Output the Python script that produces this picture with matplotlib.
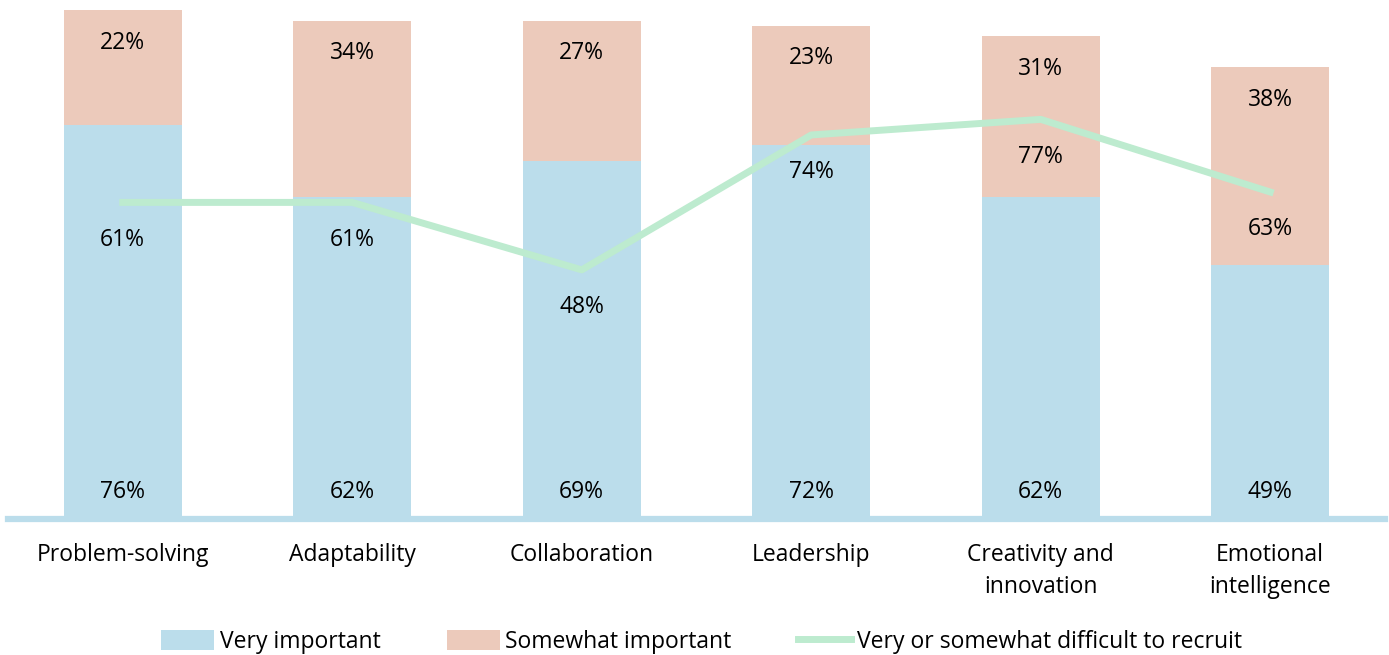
import matplotlib.pyplot as plt
import numpy as np

plt.rcParams['font.family'] = ['Open Sans', 'DejaVu Sans']

# data
categories = ['Problem-solving', 'Adaptability', 'Collaboration', 'Leadership',
              'Creativity and\ninnovation', 'Emotional\nintelligence']
very_important = [76, 62, 69, 72, 62, 49]
somewhat_important = [22, 34, 27, 23, 31, 38]
difficult_to_recruit = [61, 61, 48, 74, 77, 63]

blue = '#BBDDEB'
peach = '#ECCABB'
green = '#BDEBCF'
fs = 16.5

fig = plt.figure(figsize=(13.89, 6.55), dpi=100)
ax = fig.add_axes([8 / 1389, 136 / 655, 1377 / 1389, 519 / 655])

x = np.arange(len(categories))
w = 0.515
ax.bar(x, very_important, w, color=blue, label='Very important', zorder=2)
ax.bar(x, somewhat_important, w, bottom=very_important, color=peach,
       label='Somewhat important', zorder=2)
ax.plot(x, difficult_to_recruit, color=green, lw=5, zorder=3,
        label='Very or somewhat difficult to recruit')

# value labels
for i in range(len(x)):
    ax.text(x[i], 5.2, f'{very_important[i]}%', ha='center', va='center', fontsize=fs, zorder=4)
    top = very_important[i] + somewhat_important[i]
    ax.text(x[i], top - 6.2, f'{somewhat_important[i]}%', ha='center', va='center', fontsize=fs, zorder=4)
    ax.text(x[i], difficult_to_recruit[i] - 7.2, f'{difficult_to_recruit[i]}%', ha='center', va='center',
            fontsize=fs, zorder=4)

ax.axhline(0, color=blue, lw=4.5, zorder=5, clip_on=False)
ax.set_xlim(-0.5, len(x) - 0.5)
ax.set_ylim(0, 100)
ax.set_xticks(x)
ax.set_xticklabels(categories, fontsize=fs, linespacing=1.45, va='top')
ax.tick_params(axis='x', length=0, pad=17)
ax.set_yticks([])
for s in ax.spines.values():
    s.set_visible(False)

handles, labels = ax.get_legend_handles_labels()
order = [1, 2, 0]
fig.legend([handles[i] for i in order], [labels[i] for i in order],
           loc='lower center', bbox_to_anchor=(0.505, -0.03), ncol=3, frameon=False,
           fontsize=fs, handlelength=2.3, handleheight=0.95, columnspacing=2.9, handletextpad=0.25)

fig.savefig('out.png', dpi=100)
